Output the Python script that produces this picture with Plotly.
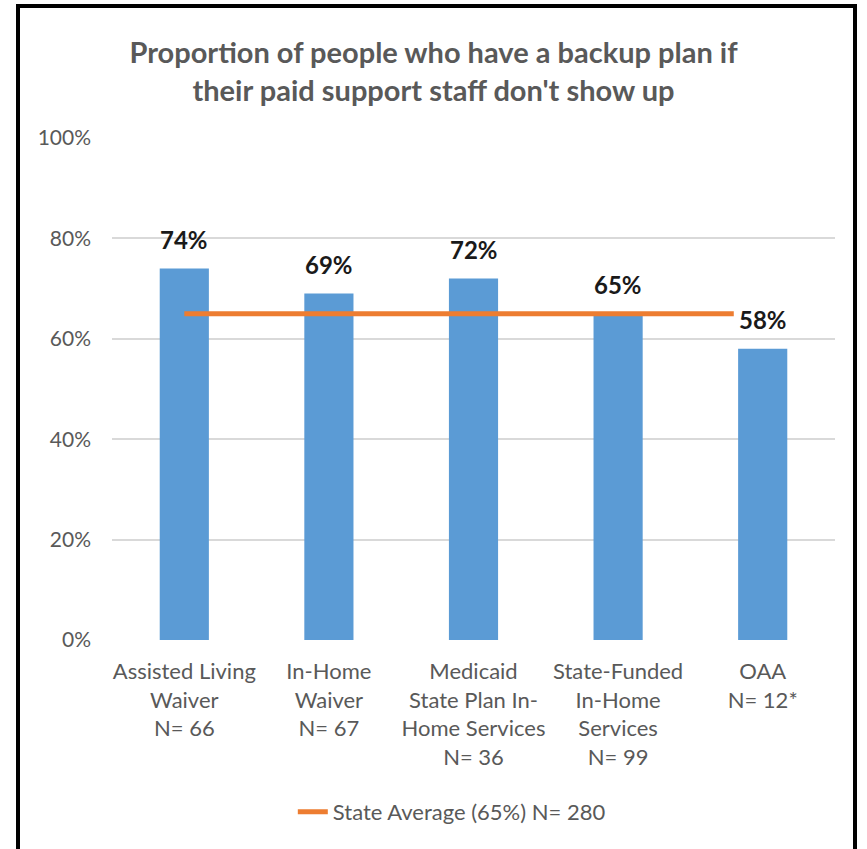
import plotly.graph_objects as go

# Program categories (multi-line axis labels) and the share with a backup plan
categories = [
    "Assisted Living<br>Waiver<br>N= 66",
    "In-Home<br>Waiver<br>N= 67",
    "Medicaid<br>State Plan In-<br>Home Services<br>N= 36",
    "State-Funded<br>In-Home<br>Services<br>N= 99",
    "OAA<br>N= 12*",
]
values = [74, 69, 72, 65, 58]

# Statewide average reference line
state_avg = 65
state_avg_span = [0, 3.8]
state_avg_name = "State Average (65%) N= 280"

y_ticks = [0, 20, 40, 60, 80, 100]
y_tick_labels = ["0%", "20%", "40%", "60%", "80%", "100%"]

FONT = "Lato"
GRAY = "#595959"
BLUE = "#5B9BD5"
ORANGE = "#ED7D31"

x_idx = list(range(len(categories)))

fig = go.Figure()
fig.add_trace(go.Bar(
    x=x_idx, y=values, marker=dict(color=BLUE, line=dict(width=0)),
    showlegend=False, hoverinfo="skip",
))
fig.add_trace(go.Scatter(
    x=state_avg_span, y=[state_avg] * len(state_avg_span), mode="lines",
    line=dict(color=ORANGE, width=5), name=state_avg_name,
))

for xi, v in zip(x_idx, values):
    fig.add_annotation(
        x=xi, y=v, text=f"<b>{v}%</b>", showarrow=False,
        yanchor="bottom", yshift=13,
        font=dict(family=FONT, size=24, color="#1a1a1a"),
    )

W, H = 867, 849
L, R, T, B = 112, 32, 138, 209
pw, ph = W - L - R, H - T - B

def px_x(p):
    return (p - L) / pw

def px_y(p):
    return (H - B - p) / ph

# Outer frame around the chart
fig.add_shape(
    type="rect", xref="paper", yref="paper",
    x0=px_x(18), x1=px_x(855), y0=px_y(870), y1=px_y(6),
    line=dict(color="black", width=4), fillcolor="rgba(0,0,0,0)",
)

fig.update_layout(
    width=W, height=H,
    margin=dict(l=L, r=R, t=T, b=B),
    paper_bgcolor="white", plot_bgcolor="white",
    title=dict(
        text="<b>Proportion of people who have a backup plan if<br>their paid support staff don't show up</b>",
        x=0.5, xref="container", y=1 - 63 / H, yref="container",
        xanchor="center", yanchor="middle",
        font=dict(family=FONT, size=29, color=GRAY),
    ),
    bargap=0.66,
    xaxis=dict(
        tickmode="array", tickvals=x_idx, ticktext=categories,
        range=[-0.5, len(categories) - 0.5],
        showgrid=False, zeroline=False, showline=False, ticks="",
        tickfont=dict(family=FONT, size=22, color=GRAY),
        ticklabelstandoff=16,
    ),
    yaxis=dict(
        range=[0, 100], tickmode="array", tickvals=y_ticks, ticktext=y_tick_labels,
        showgrid=True, gridcolor="#D9D9D9", gridwidth=1.5,
        zeroline=False, showline=False, ticks="", ticklen=0,
        tickfont=dict(family=FONT, size=21, color=GRAY),
        ticklabelstandoff=20,
    ),
    legend=dict(
        orientation="h", x=0.47, xanchor="center", y=px_y(812), yanchor="middle",
        font=dict(family=FONT, size=22, color=GRAY),
        bgcolor="rgba(0,0,0,0)",
    ),
)

fig.write_html("out.html")
